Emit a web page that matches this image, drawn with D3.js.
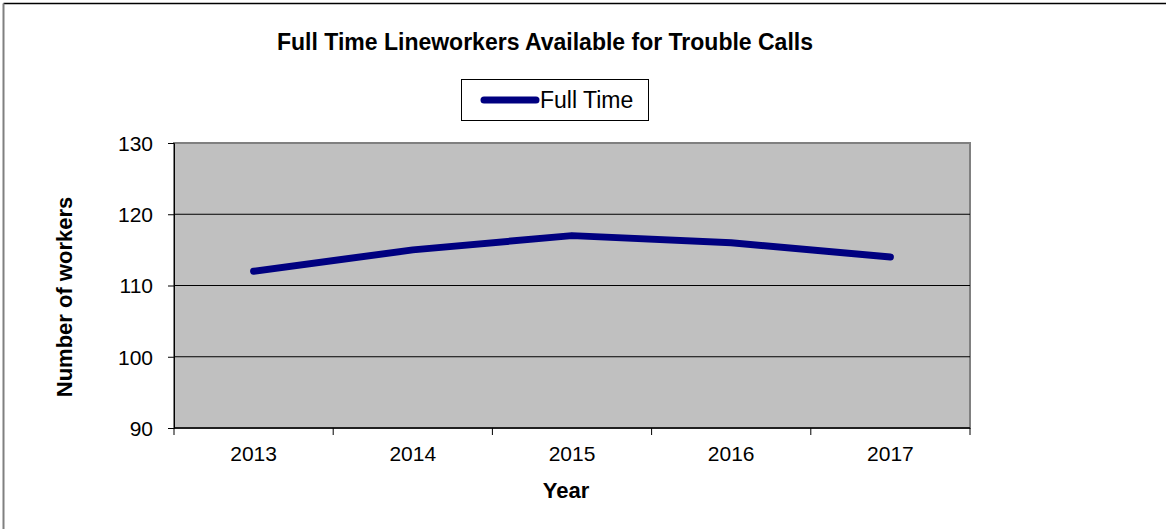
<!DOCTYPE html>
<html>
<head>
<meta charset="utf-8">
<script src="https://cdn.jsdelivr.net/npm/d3@7"></script>
<style>
  body { margin: 0; background: #fff; }
  text { font-family: "Liberation Sans", Arial, sans-serif; }
</style>
</head>
<body>
<script>
// chart data
const years = ["2013", "2014", "2015", "2016", "2017"];
const fullTime = [112, 115, 117, 116, 114];
const yTicks = [90, 100, 110, 120, 130];

const W = 1166, H = 529;
const m = { left: 174, right: 970, top: 143, bottom: 428 };

let svg = d3.select("body").append("svg")
  .attr("width", W)
  .attr("height", H);

// outer frame
svg.append("line").attr("x1", 3.5).attr("x2", W).attr("y1", 3.5).attr("y2", 3.5)
  .attr("stroke", "#000").attr("stroke-width", 1.5);
svg.append("line").attr("x1", 3.5).attr("x2", 3.5).attr("y1", 3.5).attr("y2", H)
  .attr("stroke", "#808080").attr("stroke-width", 2);

let x = d3.scaleBand().domain(years).range([m.left, m.right]);
let y = d3.scaleLinear().domain([90, 130]).range([m.bottom, m.top]);

// plot area
svg.append("rect")
  .attr("x", m.left).attr("y", m.top)
  .attr("width", m.right - m.left).attr("height", m.bottom - m.top)
  .attr("fill", "#c0c0c0")
  .attr("stroke", "#808080").attr("stroke-width", 2);

// gridlines
svg.selectAll(".grid")
  .data(yTicks.slice(1, -1))
  .enter()
    .append("line")
      .attr("x1", m.left).attr("x2", m.right)
      .attr("y1", d => y(d)).attr("y2", d => y(d))
      .attr("stroke", "#000").attr("stroke-width", 1);

// y axis
let yAxis = svg.append("g")
  .attr("transform", `translate(${m.left},0)`)
  .call(d3.axisLeft(y).tickValues(yTicks).tickSize(6).tickPadding(15));
yAxis.select(".domain").attr("stroke", "#000");
yAxis.selectAll("text").style("font-size", "21px").attr("fill", "#000").attr("dy", "0.35em");

// x axis: ticks at band boundaries
let xAxis = svg.append("g")
  .attr("transform", `translate(0,${m.bottom})`);
xAxis.append("line").attr("x1", m.left).attr("x2", m.right)
  .attr("stroke", "#000").attr("stroke-width", 1.5);
xAxis.selectAll(".tk")
  .data(years.concat(["end"]))
  .enter()
    .append("line")
      .attr("x1", (d, i) => m.left + i * x.bandwidth())
      .attr("x2", (d, i) => m.left + i * x.bandwidth())
      .attr("y1", 0).attr("y2", 7)
      .attr("stroke", "#000");
xAxis.selectAll(".lbl")
  .data(years)
  .enter()
    .append("text")
      .attr("x", d => x(d) + x.bandwidth() / 2)
      .attr("y", 33)
      .attr("text-anchor", "middle")
      .style("font-size", "21px")
      .text(d => d);

// the line
let line = d3.line()
  .x((d, i) => x(years[i]) + x.bandwidth() / 2)
  .y(d => y(d));
svg.append("path")
  .datum(fullTime)
  .attr("d", line)
  .attr("fill", "none")
  .attr("stroke", "#000080")
  .attr("stroke-width", 7)
  .attr("stroke-linecap", "round")
  .attr("stroke-linejoin", "round");

// titles
svg.append("text")
  .attr("x", 545).attr("y", 50)
  .attr("text-anchor", "middle")
  .style("font-size", "23px").style("font-weight", "bold")
  .text("Full Time Lineworkers Available for Trouble Calls");
svg.append("text")
  .attr("x", 566).attr("y", 498)
  .attr("text-anchor", "middle")
  .style("font-size", "22px").style("font-weight", "bold")
  .text("Year");
svg.append("text")
  .attr("transform", "translate(72,297) rotate(-90)")
  .attr("text-anchor", "middle")
  .style("font-size", "22px").style("font-weight", "bold")
  .text("Number of workers");

// legend
let lg = svg.append("g");
lg.append("rect")
  .attr("x", 461.5).attr("y", 79.5).attr("width", 187).attr("height", 41)
  .attr("fill", "#fff").attr("stroke", "#000");
lg.append("line")
  .attr("x1", 484).attr("x2", 536).attr("y1", 100).attr("y2", 100)
  .attr("stroke", "#000080").attr("stroke-width", 7).attr("stroke-linecap", "round");
lg.append("text")
  .attr("x", 540).attr("y", 108)
  .style("font-size", "23px")
  .text("Full Time");
</script>
</body>
</html>
